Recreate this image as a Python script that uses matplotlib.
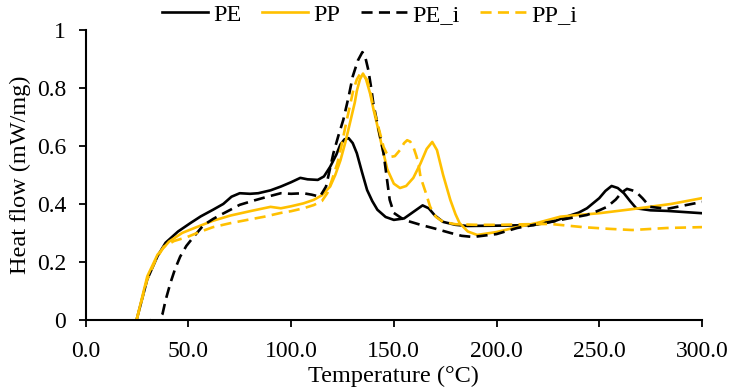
import matplotlib
matplotlib.use("Agg")
import matplotlib.pyplot as plt
from matplotlib.ticker import FuncFormatter, MultipleLocator

# temperature (°C) / heat flow (mW/mg)
pe_t = [24.8, 30, 35, 38.9, 45, 51, 56, 62, 67, 71, 75, 80, 84, 90, 95, 100, 104.5, 108, 113, 116, 119,
        122, 124, 126, 128, 130, 132, 134.5, 137, 139.5, 142, 146, 150, 155, 159, 162, 164, 167, 170, 174,
        180, 185.7, 200, 218, 228, 234, 240, 244, 250, 253, 256, 259, 262, 265, 268, 275, 283, 300]
pe_y = [0.0, 0.14, 0.22, 0.266, 0.305, 0.334, 0.357, 0.38, 0.40, 0.425, 0.437, 0.435, 0.437, 0.447, 0.46,
        0.475, 0.49, 0.485, 0.483, 0.495, 0.528, 0.57, 0.605, 0.623, 0.627, 0.61, 0.575, 0.51, 0.448, 0.41,
        0.38, 0.355, 0.345, 0.35, 0.37, 0.385, 0.395, 0.385, 0.36, 0.338, 0.328, 0.324, 0.325, 0.327,
        0.34, 0.356, 0.37, 0.385, 0.42, 0.445, 0.462, 0.455, 0.437, 0.41, 0.385, 0.378, 0.376, 0.368]

pp_t = [24.8, 30, 35, 40.6, 47, 54, 62, 70.5, 80, 90, 95, 100, 106, 111, 115, 119, 121.5, 124, 126.5,
        129, 131, 132, 133.5, 135, 136.5, 138.5, 140, 142, 144.5, 146.8, 150, 153, 156, 159.5, 163, 166,
        168.7, 171, 174, 177.5, 180, 182, 186, 190.6, 200, 210, 220, 231, 240, 250, 266, 285, 300]
pp_y = [0.0, 0.15, 0.225, 0.27, 0.30, 0.32, 0.342, 0.36, 0.375, 0.39, 0.385, 0.392, 0.402, 0.414, 0.43,
        0.46, 0.50, 0.55, 0.615, 0.69, 0.75, 0.79, 0.83, 0.85, 0.83, 0.78, 0.73, 0.67, 0.59, 0.52, 0.47,
        0.455, 0.462, 0.49, 0.54, 0.59, 0.614, 0.586, 0.50, 0.414, 0.365, 0.334, 0.305, 0.293, 0.303, 0.32,
        0.335, 0.356, 0.362, 0.368, 0.382, 0.40, 0.42]

pei_t = [31, 33, 35, 37.4, 39, 41.3, 43.5, 46, 49, 52.5, 57.4, 62, 65.6, 70.5, 75, 82, 88.5, 95, 100,
         106, 110, 114, 117, 120.6, 123, 125.4, 128, 130, 132.5, 134.7, 136, 137.6, 139, 140, 142.5, 145,
         148, 150, 155, 163, 170, 177.5, 183, 188.6, 200, 210, 226, 244, 250, 253.8, 258, 261, 263.5, 266,
         268, 271, 274.7, 283, 300]
pei_y = [0.0, -0.01, -0.005, 0.02, 0.07, 0.128, 0.175, 0.218, 0.255, 0.286, 0.327, 0.348, 0.362, 0.38,
         0.397, 0.412, 0.425, 0.437, 0.435, 0.437, 0.432, 0.425, 0.46, 0.575, 0.635, 0.69, 0.77, 0.84,
         0.895, 0.924, 0.91, 0.862, 0.80, 0.748, 0.66, 0.575, 0.414, 0.369, 0.345, 0.328, 0.315, 0.30,
         0.29, 0.286, 0.296, 0.317, 0.338, 0.362, 0.378, 0.39, 0.415, 0.44, 0.452, 0.447, 0.441, 0.42,
         0.39, 0.383, 0.407]

ppi_t = [24.8, 30, 34, 38, 43, 49.5, 55, 62, 70, 78.7, 87, 95, 100, 106, 111, 115, 117.6, 120, 122.5,
         124.5, 126.4, 128.5, 130.3, 132, 133.7, 135.5, 137, 138.5, 140, 142.5, 145, 146.5, 148, 150.5,
         153, 155, 156.5, 158, 159.5, 161, 162, 163, 165.5, 167.7, 170.5, 174, 180, 190, 201.7, 215, 226,
         242, 255, 266, 283, 300]
ppi_y = [0.0, 0.14, 0.205, 0.252, 0.272, 0.286, 0.302, 0.32, 0.333, 0.345, 0.356, 0.369, 0.375, 0.385,
         0.396, 0.41, 0.437, 0.485, 0.54, 0.60, 0.666, 0.735, 0.793, 0.83, 0.85, 0.843, 0.828, 0.79,
         0.734, 0.665, 0.597, 0.575, 0.562, 0.565, 0.586, 0.61, 0.62, 0.615, 0.597, 0.565, 0.54, 0.493,
         0.44, 0.39, 0.355, 0.338, 0.33, 0.328, 0.328, 0.33, 0.331, 0.32, 0.314, 0.31, 0.317, 0.32]

plt.rcParams['font.family'] = ['Liberation Serif', 'DejaVu Serif']

fig = plt.figure(figsize=(7.32, 3.91), dpi=100)
ax = fig.add_axes([0.117, 0.182, 0.842, 0.741])

gold = '#FFC000'
dash = (0, (4.2, 2.4))
ax.plot(pe_t, pe_y, color='black', lw=1.9, label='PE')
ax.plot(pp_t, pp_y, color=gold, lw=1.9, label='PP')
ax.plot(pei_t, pei_y, color='black', lw=1.9, ls=dash, label='PE_i')
ax.plot(ppi_t, ppi_y, color=gold, lw=1.9, ls=dash, label='PP_i')

ax.set_xlim(0, 300)
ax.set_ylim(0, 1)
ax.xaxis.set_major_locator(MultipleLocator(50))
ax.yaxis.set_major_locator(MultipleLocator(0.2))
ax.xaxis.set_major_formatter(FuncFormatter(lambda v, p: f"{v:.1f}"))
ax.yaxis.set_major_formatter(FuncFormatter(lambda v, p: f"{v:g}"))
ax.tick_params(labelsize=17, width=1.3, length=5)
ax.tick_params(axis='x', pad=10)
ax.tick_params(axis='y', pad=9)

for s in ['top', 'right']:
    ax.spines[s].set_visible(False)
for s in ['left', 'bottom']:
    ax.spines[s].set_linewidth(1.5)

ax.set_xlabel('Temperature (°C)', fontsize=17.5, labelpad=3)
ax.set_ylabel('Heat flow (mW/mg)', fontsize=17.5, labelpad=4)

fig.legend(loc='center', bbox_to_anchor=(0.505, 0.962), ncol=4, frameon=False, fontsize=17.5,
           handlelength=1.9, columnspacing=0.85, handletextpad=0.2, borderaxespad=0)

fig.savefig('out.png', dpi=100)
